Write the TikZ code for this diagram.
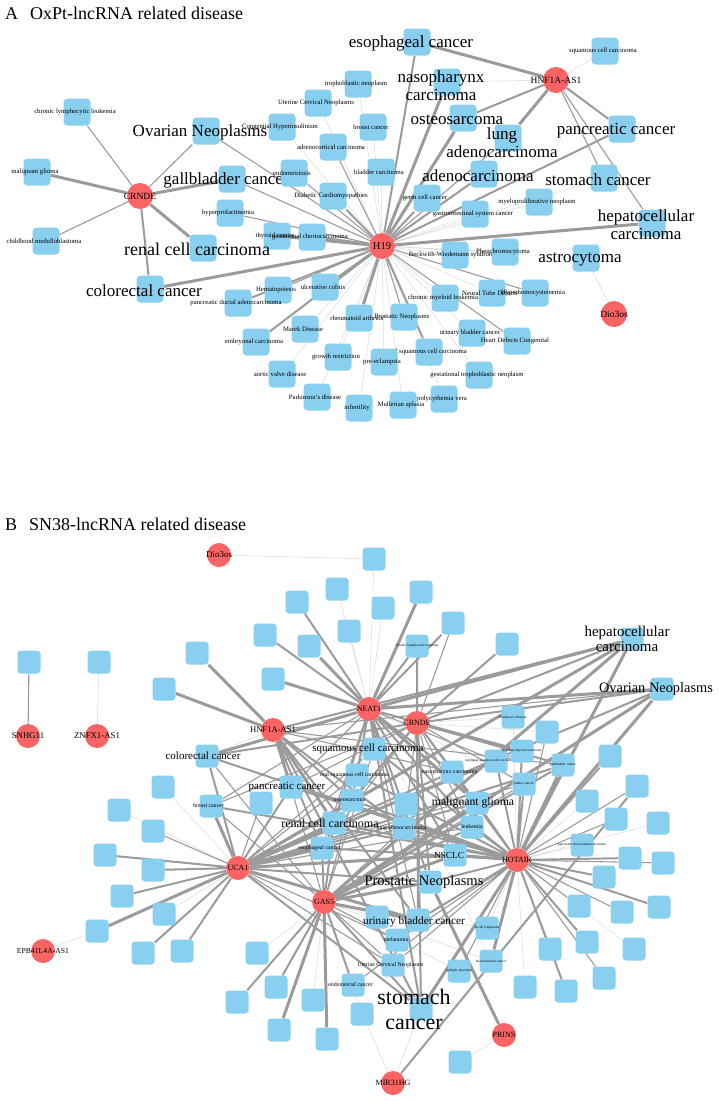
\documentclass[tikz,border=0pt]{standalone}
\usepackage{fontspec}
\setmainfont{Liberation Serif}
\usetikzlibrary{backgrounds}

\definecolor{diseaseblue}{RGB}{137,207,240}
\definecolor{lncred}{RGB}{250,100,100}
\definecolor{edgegray}{RGB}{155,155,155}
\definecolor{edgelight}{RGB}{218,218,218}

\tikzset{
  dis/.style={rectangle, rounded corners=4pt, fill=diseaseblue, minimum size=27pt, inner sep=0pt},
  disB/.style={dis, rounded corners=3.5pt, minimum size=23pt},
  lnc/.style={circle, fill=lncred, minimum size=26pt, inner sep=0pt},
  lncB/.style={lnc, minimum size=24pt},
  tS/.style={font=\fontsize{6.7}{7}\selectfont, xshift=-2pt, inner sep=0pt},
  tL/.style={font=\fontsize{17}{18}\selectfont, xshift=-6pt, yshift=-1.5pt, inner sep=0pt, align=center},
  tM/.style={font=\fontsize{5.8}{6}\selectfont, xshift=-2.5pt, inner sep=0pt},
  tB/.style={font=\fontsize{11}{12}\selectfont, xshift=-4pt, inner sep=0pt, align=center},
  tT/.style={font=\fontsize{3.5}{4}\selectfont, inner sep=0pt},
  hubA/.style={font=\fontsize{9.5}{10}\selectfont, inner sep=0pt},
  hubB/.style={font=\fontsize{8}{8}\selectfont, inner sep=0pt},
  paneltitle/.style={font=\fontsize{18}{20}\selectfont, inner sep=0pt, anchor=base west},
  e1/.style={draw=edgegray, line width=3pt},
  e2/.style={draw=edgegray, line width=2pt},
  e3/.style={draw=edgegray, line width=1.1pt},
  e4/.style={draw=edgelight, line width=0.5pt},
}

\begin{document}
\begin{tikzpicture}[x=1pt, y=-1pt]
	\useasboundingbox (0,0) rectangle (718,1101);

	% ---------------- panel A ----------------
	\node[paneltitle] (titleA) at (5,19) {A\hspace{12pt}OxPt-lncRNA related disease};

	\node[dis, label={[tS]center:chronic lymphocytic leukemia}] (aCLL) at (77,112) {};
	\node[dis, label={[tL]center:Ovarian Neoplasms}] (aOvar) at (206,131) {};
	\node[dis, label={[tS]center:Congenital Hyperinsulinism}] (aCongen) at (282,127) {};
	\node[dis, label={[tS]center:Uterine Cervical Neoplasms}] (aUterine) at (318,103) {};
	\node[dis, label={[tS]center:trophoblastic neoplasm}] (aTropho) at (358,84) {};
	\node[dis, label={[tS]center:malignant glioma}] (aGlioma) at (37,172) {};
	\node[dis, label={[tL]center:gallbladder cancer}] (aGallb) at (232,179) {};
	\node[dis, label={[tS]center:endometriosis}] (aEndom) at (294,173) {};
	\node[dis, label={[tS]center:adrenocortical carcinoma}] (aAdreno) at (333,147) {};
	\node[dis, label={[tS]center:Diabetic Cardiomyopathies}] (aDiab) at (333,196) {};
	\node[dis, label={[tS]center:hyperprolactinemia}] (aHyperp) at (230,213) {};
	\node[dis, label={[tS]center:thyroid cancer}] (aThyroid) at (277,236) {};
	\node[dis, label={[tS]center:gestational choriocarcinoma}] (aChorio) at (312,237) {};
	\node[dis, label={[tS]center:childhood medulloblastoma}] (aMedullo) at (46,241) {};
	\node[dis, label={[tL, font=\fontsize{18}{18}\selectfont]center:renal cell carcinoma}] (aRenal) at (203,248) {};
	\node[dis, label={[tL]center:colorectal cancer}] (aColorec) at (150,289) {};
	\node[dis, label={[tS]center:Hematopoiesis}] (aHemato) at (278,290) {};
	\node[dis, label={[tS]center:pancreatic ductal adenocarcinoma}] (aPDAC) at (238,303) {};
	\node[dis, label={[tS]center:ulcerative colitis}] (aUlcer) at (325,287) {};
	\node[dis, label={[tS]center:Marek Disease}] (aMarek) at (305,329) {};
	\node[dis, label={[tS]center:embryonal carcinoma}] (aEmbryo) at (256,342) {};
	\node[dis, label={[tS]center:growth restriction}] (aGrowth) at (338,357) {};
	\node[dis, label={[tS]center:aortic valve disease}] (aAortic) at (282,374) {};
	\node[dis, label={[tS]center:Parkinson's disease}] (aParkin) at (317,397) {};
	\node[dis, label={[tS]center:infertility}] (aInfert) at (359,408) {};
	\node[dis, label={[tS]center:Mullerian aplasia}] (aMuller) at (403,405) {};
	\node[dis, label={[tS]center:polycythemia vera}] (aPolycy) at (444,399) {};
	\node[dis, label={[tS]center:gestational trophoblastic neoplasm}] (aGTN) at (479,375) {};
	\node[dis, label={[tS]center:oral squamous cell carcinoma}] (aOSCC) at (429,352) {};
	\node[dis, label={[tS]center:pre-eclampsia}] (aPreecl) at (384,362) {};
	\node[dis, label={[tS]center:rheumatoid arthritis}] (aRheum) at (359,318) {};
	\node[dis, label={[tS]center:Prostatic Neoplasms}] (aProst) at (404,317) {};
	\node[dis, label={[tS]center:urinary bladder cancer}] (aUBC) at (472,333) {};
	\node[dis, label={[tS]center:Heart Defects Congenital}] (aHeart) at (517,341) {};
	\node[dis, label={[tS]center:chronic myeloid leukemia}] (aCML) at (445,298) {};
	\node[dis, label={[tS]center:Neural Tube Defects}] (aNTD) at (492,293) {};
	\node[dis, label={[tS]center:Hyperhomocysteinemia}] (aHomocy) at (535,293) {};
	\node[dis, label={[tS]center:Beckwith-Wiedemann syndrome}] (aBWS) at (455,255) {};
	\node[dis, label={[tS]center:Pheochromocytoma}] (aPheo) at (505,252) {};
	\node[dis, label={[tL]center:astrocytoma}] (aAstro) at (586,258) {};
	\node[dis, label={[tL]center:{hepatocellular\\carcinoma}}] (aHCC) at (652,223) {};
	\node[dis, label={[tL]center:stomach cancer}] (aStomach) at (604,178) {};
	\node[dis, label={[tS]center:myeloproliferative neoplasm}] (aMyelo) at (539,202) {};
	\node[dis, label={[tS]center:gastrointestinal system cancer}] (aGIST) at (475,214) {};
	\node[dis, label={[tS]center:germ cell cancer}] (aGerm) at (427,198) {};
	\node[dis, label={[tL]center:adenocarcinoma}] (aAdeno) at (484,174) {};
	\node[dis, label={[tL, yshift=-3pt]center:{lung\\adenocarcinoma}}] (aLungAd) at (508,138) {};
	\node[dis, label={[tL]center:pancreatic cancer}] (aPanc) at (622,129) {};
	\node[dis, label={[tL]center:osteosarcoma}] (aOsteo) at (463,118) {};
	\node[dis, label={[tL, yshift=-2pt]center:{nasopharynx\\carcinoma}}] (aNaso) at (447,82) {};
	\node[dis, label={[tL]center:esophageal cancer}] (aEsoph) at (417,42) {};
	\node[dis, label={[tS]center:squamous cell carcinoma}] (aSCC) at (605,51) {};
	\node[dis, label={[tS]center:breast cancer}] (aBreast) at (373,127) {};
	\node[dis, label={[tS]center:bladder carcinoma}] (aBladder) at (381,172) {};

	\node[lnc, label={[hubA]center:CRNDE}] (aCRNDE) at (140,196) {};
	\node[lnc, label={[hubA, font=\fontsize{10.5}{11}\selectfont]center:H19}] (aH19) at (382,246) {};
	\node[lnc, label={[hubA]center:HNF1A-AS1}] (aHNF) at (556,80) {};
	\node[lnc, label={[hubA]center:Dio3os}] (aDio) at (614,314) {};

	% ---------------- panel B ----------------
	\node[paneltitle] (titleB) at (5,530) {B\hspace{12pt}SN38-lncRNA related disease};

	\node[disB] (bT1) at (374,559) {};
	\node[disB] (bT2) at (337,589) {};
	\node[disB] (bT3) at (297,602) {};
	\node[disB] (bT4) at (421,592) {};
	\node[disB] (bT5) at (383,608) {};
	\node[disB] (bT6) at (349,631) {};
	\node[disB] (bT7) at (265,635) {};
	\node[disB] (bT8) at (309,646) {};
	\node[disB] (bT9) at (197,653) {};
	\node[disB, label={[tT]center:chronic lymphocytic leukemia}] (bCLL) at (417,646) {};
	\node[disB] (bT10) at (453,623) {};
	\node[disB] (bT11) at (507,644) {};
	\node[disB] (bT12) at (273,679) {};
	\node[disB] (bT13) at (164,689) {};
	\node[disB, label={[tB, font=\fontsize{15}{15}\selectfont, xshift=-1pt]center:{hepatocellular\\carcinoma}}] (bHCC) at (632,639) {};
	\node[disB, label={[tB, font=\fontsize{14.4}{15}\selectfont, xshift=-2pt]center:Ovarian Neoplasms}] (bOvar) at (662,689) {};
	\node[disB] (bSNbox) at (29,662) {};
	\node[disB] (bZNbox) at (99,662) {};

	\node[disB, label={[tB]center:colorectal cancer}] (bColorec) at (207,756) {};
	\node[disB] (bL1) at (163,787) {};
	\node[disB] (bL2) at (119,810) {};
	\node[disB, label={[tM]center:breast cancer}] (bBreast) at (211,806) {};
	\node[disB] (bL3) at (261,803) {};
	\node[disB, label={[tB]center:pancreatic cancer}] (bPanc) at (291,787) {};
	\node[disB] (bL4) at (153,831) {};
	\node[disB] (bL5) at (105,855) {};
	\node[disB] (bL6) at (153,870) {};
	\node[disB] (bL7) at (122,896) {};
	\node[disB] (bL8) at (164,914) {};
	\node[disB] (bL9) at (97,931) {};
	\node[disB] (bL10) at (143,953) {};
	\node[disB] (bL11) at (182,951) {};

	\node[disB, label={[tB, xshift=-2pt]center:squamous cell carcinoma}] (bSCC) at (374,749) {};
	\node[disB, label={[tM]center:oral squamous cell carcinoma}] (bOSCC) at (357,775) {};
	\node[disB, label={[tM]center:osteosarcoma}] (bOsteo) at (352,800) {};
	\node[disB, label={[tB, font=\fontsize{12}{12}\selectfont]center:renal cell carcinoma}] (bRenal) at (334,823) {};
	\node[disB, label={[tM]center:esophageal cancer}] (bEsoph) at (322,848) {};
	\node[disB] (bC1) at (406,804) {};
	\node[disB, label={[tM]center:lung adenocarcinoma}] (bLungAd) at (404,828) {};
	\node[disB, label={[tM]center:nasopharynx carcinoma}] (bNaso) at (452,772) {};
	\node[disB, label={[tB, font=\fontsize{11.7}{12}\selectfont]center:malignant glioma}] (bGlioma) at (477,803) {};
	\node[disB, label={[tM, xshift=2.5pt]center:leukemia}] (bLeuk) at (472,827) {};
	\node[disB, label={[tB, font=\fontsize{9.3}{10}\selectfont, xshift=-2pt]center:NSCLC}] (bNSCLC) at (455,855) {};
	\node[disB, label={[tT, xshift=-6pt]center:laryngeal squamous cell carcinoma}] (bLaryn) at (496,761) {};
	\node[disB, label={[tT]center:papillary thyroid carcinoma}] (bPapill) at (522,751) {};
	\node[disB, label={[tT]center:kidney cancer}] (bKidney) at (524,784) {};
	\node[disB, label={[tT]center:Parkinson's disease}] (bParkin) at (513,717) {};
	\node[disB] (bR1) at (547,732) {};
	\node[disB, label={[tT]center:gallbladder cancer}] (bGallb) at (563,765) {};

	\node[disB] (bR2) at (610,756) {};
	\node[disB] (bR3) at (637,786) {};
	\node[disB] (bR4) at (587,801) {};
	\node[disB] (bR5) at (616,819) {};
	\node[disB] (bR6) at (658,823) {};
	\node[disB, label={[tT]center:pancreatic ductal adenocarcinoma}] (bPDAC) at (582,845) {};
	\node[disB] (bR7) at (630,858) {};
	\node[disB] (bR8) at (663,863) {};
	\node[disB] (bR9) at (604,877) {};
	\node[disB] (bR10) at (579,906) {};
	\node[disB] (bR11) at (622,912) {};
	\node[disB] (bR12) at (659,907) {};
	\node[disB] (bR13) at (587,942) {};
	\node[disB] (bR14) at (634,949) {};
	\node[disB] (bR15) at (550,949) {};
	\node[disB] (bR16) at (604,978) {};
	\node[disB] (bR17) at (566,991) {};
	\node[disB] (bR18) at (525,987) {};
	\node[disB, label={[tT]center:B-cell lymphoma}] (bBcell) at (487,928) {};
	\node[disB, label={[tT]center:head and neck cancer}] (bHNC) at (491,961) {};
	\node[disB, label={[tT]center:multiple myeloma}] (bMM) at (459,971) {};
	\node[disB] (bP1) at (460,1062) {};

	\node[disB, label={[tB, font=\fontsize{14.5}{15}\selectfont, xshift=-2pt]center:Prostatic Neoplasms}] (bProst) at (430,882) {};
	\node[disB] (bU1) at (377,917) {};
	\node[disB, label={[tB, font=\fontsize{11.3}{12}\selectfont, yshift=-2pt]center:urinary bladder cancer}] (bUBC) at (418,920) {};
	\node[disB, label={[tM, xshift=1.5pt]center:melanoma}] (bMelan) at (397,940) {};
	\node[disB, label={[tM]center:Uterine Cervical Neoplasms}] (bUCN) at (393,965) {};
	\node[disB] (bG1) at (362,1014) {};
	\node[disB, label={[tM]center:endometrial cancer}] (bEndomC) at (353,985) {};
	\node[disB, label={[tB, font=\fontsize{22}{25}\selectfont, xshift=-3pt]center:{stomach\\cancer}}] (bStomach) at (421,1009) {};
	\node[disB] (bG2) at (257,953) {};
	\node[disB] (bG3) at (276,987) {};
	\node[disB] (bG4) at (237,1002) {};
	\node[disB] (bG5) at (313,1000) {};
	\node[disB] (bG6) at (279,1030) {};
	\node[disB] (bG7) at (327,1039) {};

	\node[lncB, label={[hubB, font=\fontsize{9}{9}\selectfont]center:Dio3os}] (bDio) at (219,555) {};
	\node[lncB, label={[hubB, font=\fontsize{8.8}{9}\selectfont]center:SNHG11}] (bSNHG) at (28,736) {};
	\node[lncB, label={[hubB, font=\fontsize{8.8}{9}\selectfont]center:ZNFX1-AS1}] (bZNFX) at (97,736) {};
	\node[lncB, label={[hubB, font=\fontsize{8.6}{9}\selectfont]center:HNF1A-AS1}] (bHNF) at (273,730) {};
	\node[lncB, label={[hubB]center:NEAT1}] (bNEAT) at (369,709) {};
	\node[lncB, label={[hubB]center:CRNDE}] (bCRNDE) at (417,723) {};
	\node[lncB, label={[hubB]center:UCA1}] (bUCA) at (238,868) {};
	\node[lncB, label={[hubB]center:GAS5}] (bGAS) at (324,902) {};
	\node[lncB, label={[hubB]center:HOTAIR}] (bHOTAIR) at (517,860) {};
	\node[lncB, label={[hubB, font=\fontsize{7.7}{8}\selectfont]center:EPB41L4A-AS1}] (bEPB) at (43,951) {};
	\node[lncB, label={[hubB]center:PRINS}] (bPRINS) at (504,1035) {};
	\node[lncB, label={[hubB]center:MIR31HG}] (bMIR) at (393,1083) {};

	\begin{pgfonlayer}{background}
	% panel A edges
	\draw[e4] (aH19) -- (aStomach) (aH19) -- (aMyelo) (aH19) -- (aGIST) (aH19) -- (aAstro)
		(aH19) -- (aBWS) (aH19) -- (aPheo) (aH19) -- (aNTD) (aH19) -- (aCML) (aH19) -- (aUBC)
		(aH19) -- (aGTN) (aH19) -- (aPolycy) (aH19) -- (aMuller) (aH19) -- (aInfert)
		(aH19) -- (aPreecl) (aH19) -- (aParkin) (aH19) -- (aAortic) (aH19) -- (aMarek)
		(aH19) -- (aGrowth) (aH19) -- (aTropho) (aH19) -- (aUterine) (aH19) -- (aCongen)
		(aH19) -- (aBreast) (aH19) -- (aBladder);
	\draw[e4] (aHNF) -- (aSCC) (aHNF) -- (aNaso) (aDio) -- (aAstro);
	\draw[e3] (aCRNDE) -- (aCLL) (aCRNDE) -- (aMedullo) (aCRNDE) -- (aOvar);
	\draw[e3] (aH19) -- (aOvar) (aH19) -- (aGallb) (aH19) -- (aHeart) (aH19) -- (aHomocy)
		(aH19) -- (aProst) (aH19) -- (aHemato) (aH19) -- (aEndom) (aH19) -- (aHyperp)
		(aH19) -- (aAdreno) (aH19) -- (aLungAd);
	\draw[e3] (aHNF) -- (aStomach) (aHNF) -- (aHCC);
	\draw[e2] (aCRNDE) -- (aColorec);
	\draw[e2] (aH19) -- (aPanc) (aH19) -- (aEsoph) (aH19) -- (aAdeno) (aH19) -- (aGerm)
		(aH19) -- (aEmbryo) (aH19) -- (aPDAC) (aH19) -- (aDiab) (aH19) -- (aOSCC);
	\draw[e2] (aHNF) -- (aPanc) (aHNF) -- (aOsteo);
	\draw[e1] (aCRNDE) -- (aGlioma) (aCRNDE) -- (aGallb) (aCRNDE) -- (aRenal);
	\draw[e1] (aH19) -- (aColorec) (aH19) -- (aHCC) (aH19) -- (aNaso) (aH19) -- (aOsteo)
		(aH19) -- (aRheum) (aH19) -- (aUlcer) (aH19) -- (aThyroid) (aH19) -- (aChorio);
	\draw[e1] (aHNF) -- (aEsoph) (aHNF) -- (aLungAd);

	% panel B edges, light
	\draw[e4] (bNEAT) -- (bT1) (bNEAT) -- (bT2) (bNEAT) -- (bT5) (bNEAT) -- (bT6)
		(bNEAT) -- (bKidney) (bNEAT) -- (bHNC);
	\draw[e4] (bCRNDE) -- (bParkin) (bCRNDE) -- (bR1);
	\draw[e4] (bHNF) -- (bColorec) (bHNF) -- (bSCC);
	\draw[e4] (bUCA) -- (bL1) (bUCA) -- (bL2) (bUCA) -- (bL8);
	\draw[e4] (bGAS) -- (bG2) (bGAS) -- (bG5) (bGAS) -- (bG1) (bGAS) -- (bU1)
		(bGAS) -- (bHNC) (bGAS) -- (bMM) (bGAS) -- (bBcell);
	\draw[e4] (bHOTAIR) -- (bR4) (bHOTAIR) -- (bR6) (bHOTAIR) -- (bPDAC) (bHOTAIR) -- (bR14)
		(bHOTAIR) -- (bR18) (bHOTAIR) -- (bBcell) (bHOTAIR) -- (bParkin);
	\draw[e4] (bDio) -- (bT1) (bZNFX) -- (bZNbox) (bEPB) -- (bL9) (bPRINS) -- (bP1)
		(bMIR) -- (bStomach) (bMIR) -- (bG1);
	% panel B edges, thin
	\draw[e3] (bNEAT) -- (bSCC) (bNEAT) -- (bEsoph) (bNEAT) -- (bGallb) (bNEAT) -- (bLaryn)
		(bNEAT) -- (bUBC) (bNEAT) -- (bBreast) (bNEAT) -- (bPanc);
	\draw[e3] (bCRNDE) -- (bT10) (bCRNDE) -- (bLeuk) (bCRNDE) -- (bNSCLC) (bCRNDE) -- (bLungAd)
		(bCRNDE) -- (bPanc) (bCRNDE) -- (bOsteo) (bCRNDE) -- (bNaso) (bCRNDE) -- (bBreast)
		(bCRNDE) -- (bEsoph) (bCRNDE) -- (bKidney);
	\draw[e3] (bHNF) -- (bNaso) (bHNF) -- (bOvar) (bHNF) -- (bGallb);
	\draw[e3] (bUCA) -- (bL4) (bUCA) -- (bL3) (bUCA) -- (bOSCC) (bUCA) -- (bSCC) (bUCA) -- (bLeuk)
		(bUCA) -- (bMelan) (bUCA) -- (bUCN) (bUCA) -- (bKidney) (bUCA) -- (bLaryn) (bUCA) -- (bPapill);
	\draw[e3] (bGAS) -- (bMelan) (bGAS) -- (bUCN) (bGAS) -- (bPanc) (bGAS) -- (bOsteo)
		(bGAS) -- (bBreast) (bGAS) -- (bLungAd) (bGAS) -- (bColorec) (bGAS) -- (bSCC) (bGAS) -- (bKidney);
	\draw[e3] (bHOTAIR) -- (bR3) (bHOTAIR) -- (bR5) (bHOTAIR) -- (bR8) (bHOTAIR) -- (bR10)
		(bHOTAIR) -- (bR11) (bHOTAIR) -- (bR16) (bHOTAIR) -- (bMM) (bHOTAIR) -- (bR1)
		(bHOTAIR) -- (bMelan) (bHOTAIR) -- (bUCN) (bHOTAIR) -- (bEndomC);
	\draw[e3] (bSNHG) -- (bSNbox);
	% panel B edges, medium
	\draw[e2] (bNEAT) -- (bT3) (bNEAT) -- (bT7) (bNEAT) -- (bT10) (bNEAT) -- (bCLL)
		(bNEAT) -- (bOSCC) (bNEAT) -- (bOsteo) (bNEAT) -- (bNaso) (bNEAT) -- (bLeuk)
		(bNEAT) -- (bNSCLC) (bNEAT) -- (bLungAd) (bNEAT) -- (bRenal) (bNEAT) -- (bPapill)
		(bNEAT) -- (bStomach) (bNEAT) -- (bProst);
	\draw[e2] (bCRNDE) -- (bCLL) (bCRNDE) -- (bT11) (bCRNDE) -- (bHCC) (bCRNDE) -- (bOvar)
		(bCRNDE) -- (bColorec) (bCRNDE) -- (bGallb) (bCRNDE) -- (bGlioma) (bCRNDE) -- (bProst)
		(bCRNDE) -- (bRenal) (bCRNDE) -- (bStomach) (bCRNDE) -- (bUBC);
	\draw[e2] (bHNF) -- (bEsoph) (bHNF) -- (bStomach) (bHNF) -- (bLungAd) (bHNF) -- (bOsteo)
		(bHNF) -- (bHCC) (bHNF) -- (bUBC);
	\draw[e2] (bUCA) -- (bL5) (bUCA) -- (bL6) (bUCA) -- (bL7) (bUCA) -- (bL10) (bUCA) -- (bL11)
		(bUCA) -- (bColorec) (bUCA) -- (bPanc) (bUCA) -- (bOsteo) (bUCA) -- (bLungAd)
		(bUCA) -- (bProst) (bUCA) -- (bGlioma) (bUCA) -- (bOvar) (bUCA) -- (bGallb)
		(bUCA) -- (bStomach) (bUCA) -- (bNaso);
	\draw[e2] (bGAS) -- (bG3) (bGAS) -- (bG4) (bGAS) -- (bEndomC) (bGAS) -- (bStomach)
		(bGAS) -- (bGallb) (bGAS) -- (bRenal) (bGAS) -- (bEsoph) (bGAS) -- (bLeuk);
	\draw[e2] (bHOTAIR) -- (bR2) (bHOTAIR) -- (bR7) (bHOTAIR) -- (bR9) (bHOTAIR) -- (bR12)
		(bHOTAIR) -- (bR13) (bHOTAIR) -- (bR15) (bHOTAIR) -- (bR17) (bHOTAIR) -- (bKidney)
		(bHOTAIR) -- (bPapill) (bHOTAIR) -- (bLaryn) (bHOTAIR) -- (bLeuk) (bHOTAIR) -- (bGlioma)
		(bHOTAIR) -- (bLungAd) (bHOTAIR) -- (bNaso) (bHOTAIR) -- (bProst) (bHOTAIR) -- (bUBC)
		(bHOTAIR) -- (bColorec) (bHOTAIR) -- (bOsteo) (bHOTAIR) -- (bSCC) (bHOTAIR) -- (bOSCC)
		(bHOTAIR) -- (bRenal) (bHOTAIR) -- (bEsoph) (bHOTAIR) -- (bPanc) (bHOTAIR) -- (bBreast);
	\draw[e2] (bMIR) -- (bR3);
	% panel B edges, heavy
	\draw[e1] (bNEAT) -- (bT4) (bNEAT) -- (bT8) (bNEAT) -- (bT12) (bNEAT) -- (bColorec)
		(bNEAT) -- (bHCC) (bNEAT) -- (bOvar) (bNEAT) -- (bGlioma);
	\draw[e1] (bCRNDE) -- (bPapill);
	\draw[e1] (bHNF) -- (bT9) (bHNF) -- (bT13) (bHNF) -- (bPanc) (bHNF) -- (bRenal);
	\draw[e1] (bUCA) -- (bL9) (bUCA) -- (bBreast) (bUCA) -- (bRenal) (bUCA) -- (bEsoph)
		(bUCA) -- (bNSCLC) (bUCA) -- (bHCC) (bUCA) -- (bUBC);
	\draw[e1] (bGAS) -- (bG6) (bGAS) -- (bG7) (bGAS) -- (bUBC) (bGAS) -- (bProst)
		(bGAS) -- (bNSCLC) (bGAS) -- (bGlioma) (bGAS) -- (bHCC) (bGAS) -- (bOvar);
	\draw[e1] (bHOTAIR) -- (bHNC) (bHOTAIR) -- (bGallb) (bHOTAIR) -- (bOvar) (bHOTAIR) -- (bHCC)
		(bHOTAIR) -- (bNSCLC) (bHOTAIR) -- (bStomach);
	\draw[e1] (bPRINS) -- (bProst);
	\end{pgfonlayer}
\end{tikzpicture}
\end{document}
